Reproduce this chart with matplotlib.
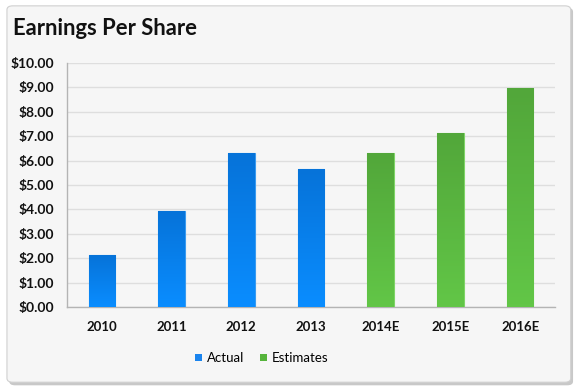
import matplotlib.pyplot as plt
import numpy as np
from matplotlib.patches import FancyBboxPatch, Patch

years = ['2010', '2011', '2012', '2013', '2014E', '2015E', '2016E']
eps = [2.13, 3.93, 6.30, 5.65, 6.30, 7.14, 8.97]
is_estimate = [False, False, False, False, True, True, True]
yticks = [0, 1, 2, 3, 4, 5, 6, 7, 8, 9, 10]

plt.rcParams['font.family'] = ['Lato', 'DejaVu Sans']

fig = plt.figure(figsize=(5.8, 3.9), dpi=100)
fig.patch.set_facecolor('white')

# card with shadow
shadow = FancyBboxPatch((0.016, 0.012), 0.972, 0.968, boxstyle="round,pad=0,rounding_size=0.01",
                        transform=fig.transFigure, facecolor='#c8c8c8', edgecolor='none', zorder=-2)
card = FancyBboxPatch((0.012, 0.02), 0.972, 0.965, boxstyle="round,pad=0,rounding_size=0.01",
                      transform=fig.transFigure, facecolor='#f6f6f6', edgecolor='#d0d0d0', lw=0.8, zorder=-1)
fig.patches.extend([shadow, card])

fig.text(0.022, 0.928, 'Earnings Per Share', fontsize=15.8, fontweight='bold', color='#111111', va='center')

ax = fig.add_axes([67 / 580, 1 - 307 / 390, 488 / 580, 244 / 390])
ax.set_facecolor('none')

x = np.arange(len(years))
top_col = {False: '#0673d9', True: '#52a73a'}
bot_col = {False: '#0a8dff', True: '#62c647'}
edge_col = {False: '#3a9bf0', True: '#7ed466'}
for xi, v, est in zip(x, eps, is_estimate):
    bar = ax.bar(xi, v, width=0.38, color=bot_col[est], edgecolor=edge_col[est], lw=0.8, zorder=3)[0]
    c1 = np.array(plt.matplotlib.colors.to_rgb(top_col[est]))
    c2 = np.array(plt.matplotlib.colors.to_rgb(bot_col[est]))
    t = np.linspace(0, 1, 64)[:, None]
    grad = (c1 * (1 - t) + c2 * t)[:, None, :]
    im = ax.imshow(grad, extent=(xi - 0.19, xi + 0.19, 0, v), aspect='auto', zorder=3.5)
    im.set_clip_path(bar)

ax.set_xlim(-0.5, len(years) - 0.5)
ax.set_ylim(0, 10)
ax.set_yticks(yticks)
ax.set_yticklabels(['${:.2f}'.format(t) for t in yticks], fontsize=10, fontweight='bold', color='#111111')
ax.set_xticks(x)
ax.set_xticklabels(years, fontsize=9.5, fontweight='bold', color='#111111')
ax.tick_params(axis='y', length=0, pad=9)
ax.tick_params(axis='x', length=0, pad=10)
ax.grid(axis='y', color='#dedede', lw=1, zorder=0)
for s in ['top', 'right']:
    ax.spines[s].set_visible(False)
for s in ['left', 'bottom']:
    ax.spines[s].set_color('#b4b4b4')
    ax.spines[s].set_linewidth(1)

handles = [Patch(facecolor='#1a84ee', label='Actual'), Patch(facecolor='#56b43c', label='Estimates')]
fig.legend(handles=handles, loc='center', bbox_to_anchor=(262 / 580, 0.082), ncol=2, frameon=False,
           fontsize=9.5, handlelength=0.5, handleheight=0.5, handletextpad=0.4, columnspacing=1.2)

fig.savefig('out.png', dpi=100)
